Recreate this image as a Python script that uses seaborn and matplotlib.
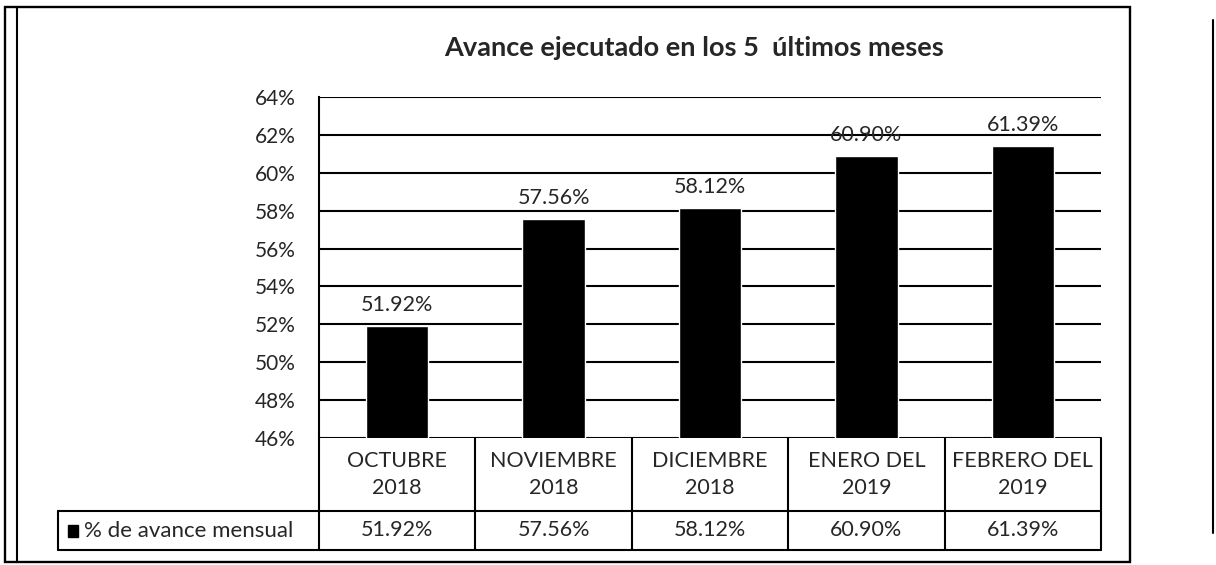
import matplotlib
matplotlib.use('Agg')
import pandas as pd
import seaborn as sns
from matplotlib import pyplot as plt
from matplotlib.lines import Line2D
from matplotlib.patches import Rectangle
from matplotlib.transforms import blended_transform_factory

# datos
meses = ['OCTUBRE\n2018', 'NOVIEMBRE\n2018', 'DICIEMBRE\n2018', 'ENERO DEL\n2019', 'FEBRERO DEL\n2019']
avance = [51.92, 57.56, 58.12, 60.90, 61.39]
etiquetas = ['51.92%', '57.56%', '58.12%', '60.90%', '61.39%']
serie = '% de avance mensual'
titulo = 'Avance ejecutado en los 5  últimos meses'
y_ticks = [46, 48, 50, 52, 54, 56, 58, 60, 62, 64]

df = pd.DataFrame({'mes': meses, 'avance': avance})

sns.set_theme(style='white')
plt.rcParams['font.family'] = ['Lato', 'DejaVu Sans']

W, H = 1216, 565
fig = plt.figure(figsize=(W / 100, H / 100), dpi=100)


def fx(px):
    return px / W


def fy(py):
    return 1 - py / H


ax = fig.add_axes([fx(319), fy(438), fx(1101) - fx(319), fy(97) - fy(438)])

sns.barplot(x='mes', y='avance', data=df, color='black', width=0.4,
            saturation=1, ax=ax, zorder=3)
ax.set_ylim(46, 64)
ax.set_xlim(-0.5, 4.5)
ax.set_yticks(y_ticks)
ax.set_yticklabels(['%d%%' % t for t in y_ticks], fontsize=15)
ax.set_xticks([])
ax.set_xlabel('')
ax.set_ylabel('')
ax.tick_params(axis='y', length=0, pad=17)
ax.yaxis.grid(True, color='black', linewidth=1.5)
ax.set_axisbelow(True)
for s in ['top', 'right', 'bottom']:
    ax.spines[s].set_visible(False)
ax.spines['left'].set_color('black')
ax.spines['left'].set_linewidth(1.5)

ax.bar_label(ax.containers[0], labels=etiquetas, padding=8, fontsize=15.5)

# titulo
fig.text(fx(694), fy(56), titulo, ha='center', va='baseline', fontsize=19.5,
         fontweight='bold')

# tabla de datos bajo el eje
tr = blended_transform_factory(ax.transData, ax.transAxes)
h_ax = 438 - 97
r1 = -(511 - 438) / h_ax
r2 = -(550 - 438) / h_ax
lk = dict(color='black', linewidth=1.5, transform=tr, clip_on=False)
ax.add_line(Line2D([-0.5, 4.5], [r1, r1], **lk))
ax.add_line(Line2D([-0.5, 4.5], [r2, r2], **lk))
ax.add_line(Line2D([-0.5, -0.5], [0, r2], **lk))
for i in range(len(meses)):
    ax.add_line(Line2D([i + 0.5, i + 0.5], [0, r2], **lk))
    ax.text(i, r1 / 2, meses[i], ha='center', va='center', fontsize=15.5,
            linespacing=1.4, transform=tr)
    ax.text(i, (r1 + r2) / 2, etiquetas[i], ha='center', va='center',
            fontsize=15.5, transform=tr)

# celda de la serie
lf = dict(color='black', linewidth=1.5)
fig.add_artist(Line2D([fx(58), fx(319)], [fy(511), fy(511)], **lf))
fig.add_artist(Line2D([fx(58), fx(319)], [fy(550), fy(550)], **lf))
fig.add_artist(Line2D([fx(58), fx(58)], [fy(511), fy(550)], **lf))
fig.add_artist(Rectangle((fx(68), fy(537)), fx(10), fy(525) - fy(537), color='black'))
fig.text(fx(84), fy(531), serie, ha='left', va='center', fontsize=16)

# marcos exteriores
fig.add_artist(Rectangle((fx(5), fy(562)), fx(1130) - fx(5), fy(7) - fy(562),
                         fill=False, edgecolor='black', linewidth=1.7))
fig.add_artist(Line2D([fx(17), fx(17)], [fy(7), fy(562)], color='black', linewidth=1.5))
fig.add_artist(Line2D([fx(1213), fx(1213)], [fy(20), fy(533)], color='black', linewidth=1.5))

fig.savefig('out.png', dpi=100, facecolor='white')
